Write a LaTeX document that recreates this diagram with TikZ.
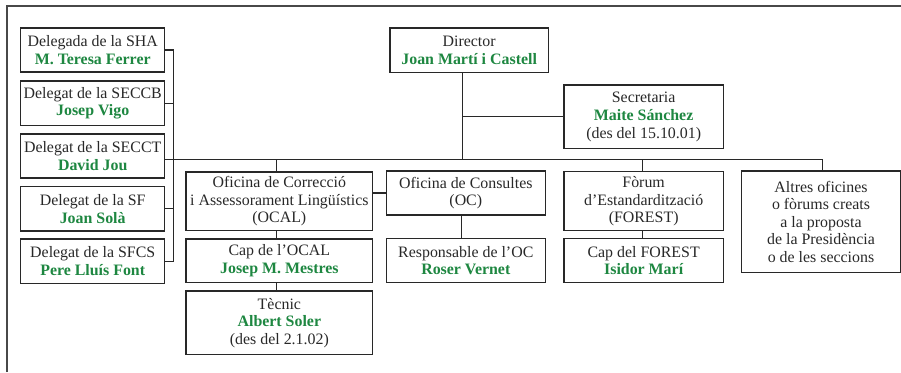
\documentclass[tikz,border=0pt]{standalone}
\usepackage{fontspec}
\setmainfont{Liberation Serif}
\definecolor{grn}{RGB}{30,135,65}
\definecolor{ink}{RGB}{40,40,40}
\newcommand\pname[1]{{\bfseries\color{grn}#1}}
\tikzset{
  box/.style={draw=ink,line width=1.2pt,align=center,inner sep=0pt,text=ink,
    font=\fontsize{15.9}{17.6}\selectfont},
  conn/.style={draw=ink,line width=1.2pt},
  frame/.style={draw=ink!85,line width=1.2pt}
}
\begin{document}
\begin{tikzpicture}[x=1pt,y=-1pt]
\useasboundingbox (0,0) rectangle (901,372);
\draw[frame] (7,372) -- (7,6) -- (901,6);
% delegates
\node[box,minimum width=144pt,minimum height=44pt] (sha) at (92.7,50) {Delegada de la SHA\\\pname{M. Teresa Ferrer}};
\node[box,minimum width=144pt,minimum height=44.7pt] (seccb) at (92.7,103.35) {Delegat de la SECCB\\\pname{Josep Vigo}};
\node[box,minimum width=144pt,minimum height=44pt] (secct) at (92.7,156) {Delegat de la SECCT\\\pname{David Jou}};
\node[box,minimum width=144pt,minimum height=44.3pt] (sf) at (92.7,208.85) {Delegat de la SF\\\pname{Joan Solà}};
\node[box,minimum width=144pt,minimum height=44.3pt] (sfcs) at (92.7,261.15) {Delegat de la SFCS\\\pname{Pere Lluís Font}};
% top
\node[box,minimum width=158.3pt,minimum height=44.3pt] (dir) at (469.15,50.15) {Director\\\pname{Joan Martí i Castell}};
\node[box,minimum width=159.3pt,minimum height=63.7pt] (sec) at (643.65,116.85) {Secretaria\\\pname{Maite Sánchez}\\(des del 15.10.01)};
% offices
\node[box,minimum width=186.7pt,minimum height=58.7pt] (ocal) at (279.35,201.35) {Oficina de Correcció\\i Assessorament Lingüístics\\(OCAL)};
\node[box,minimum width=186.7pt,minimum height=43.5pt] (capocal) at (279.35,260.75) {Cap de l’OCAL\\\pname{Josep M. Mestres}};
\node[box,minimum width=186.7pt,minimum height=63.7pt] (tec) at (279.35,322.85) {Tècnic\\\pname{Albert Soler}\\(des del 2.1.02)};
\node[box,minimum width=159pt,minimum height=44pt] (oc) at (465.8,193) {Oficina de Consultes\\(OC)};
\node[box,minimum width=159pt,minimum height=44pt] (resp) at (465.8,260.7) {Responsable de l’OC\\\pname{Roser Vernet}};
\node[box,minimum width=159.3pt,minimum height=59pt] (forest) at (643.65,201.2) {Fòrum\\d’Estandardització\\(FOREST)};
\node[box,minimum width=159.3pt,minimum height=44pt] (capforest) at (643.65,260.7) {Cap del FOREST\\\pname{Isidor Marí}};
\node[box,minimum width=158.6pt,minimum height=101.7pt] (altres) at (821,221.85) {Altres oficines\\o fòrums creats\\a la proposta\\de la Presidència\\o de les seccions};
% junctions
\coordinate (jv) at (173.7,159.3);
\coordinate (ja) at (276.7,159.3);
\coordinate (jd) at (462.7,159.3);
\coordinate (jf) at (642.7,159.3);
\coordinate (jr) at (822.7,159.3);
\coordinate (jo) at (461.7,215);
% connectors
\draw[conn] (sha.east) -| (jv |- sfcs.east) -- (sfcs.east);
\draw[conn] (seccb.east) -- (seccb.east -| jv);
\draw[conn] (sf.east) -- (sf.east -| jv);
\draw[conn] (secct.east |- jr) -- (jr) -- (jr |- altres.north);
\draw[conn] (dir.south -| jd) -- (jd);
\draw[conn] (jd |- sec.west) -- (sec.west);
\draw[conn] (ja) -- (ja |- ocal.north);
\draw[conn] (ocal.south -| ja) -- (ja |- capocal.north);
\draw[conn] (capocal.south -| ja) -- (ja |- tec.north);
\draw[conn] (jf) -- (jf |- forest.north);
\draw[conn] (forest.south -| jf) -- (jf |- capforest.north);
\draw[conn] (ocal.east |- oc.west) -- (oc.west);
\draw[conn] (jo) -- (jo |- resp.north);
\end{tikzpicture}
\end{document}
